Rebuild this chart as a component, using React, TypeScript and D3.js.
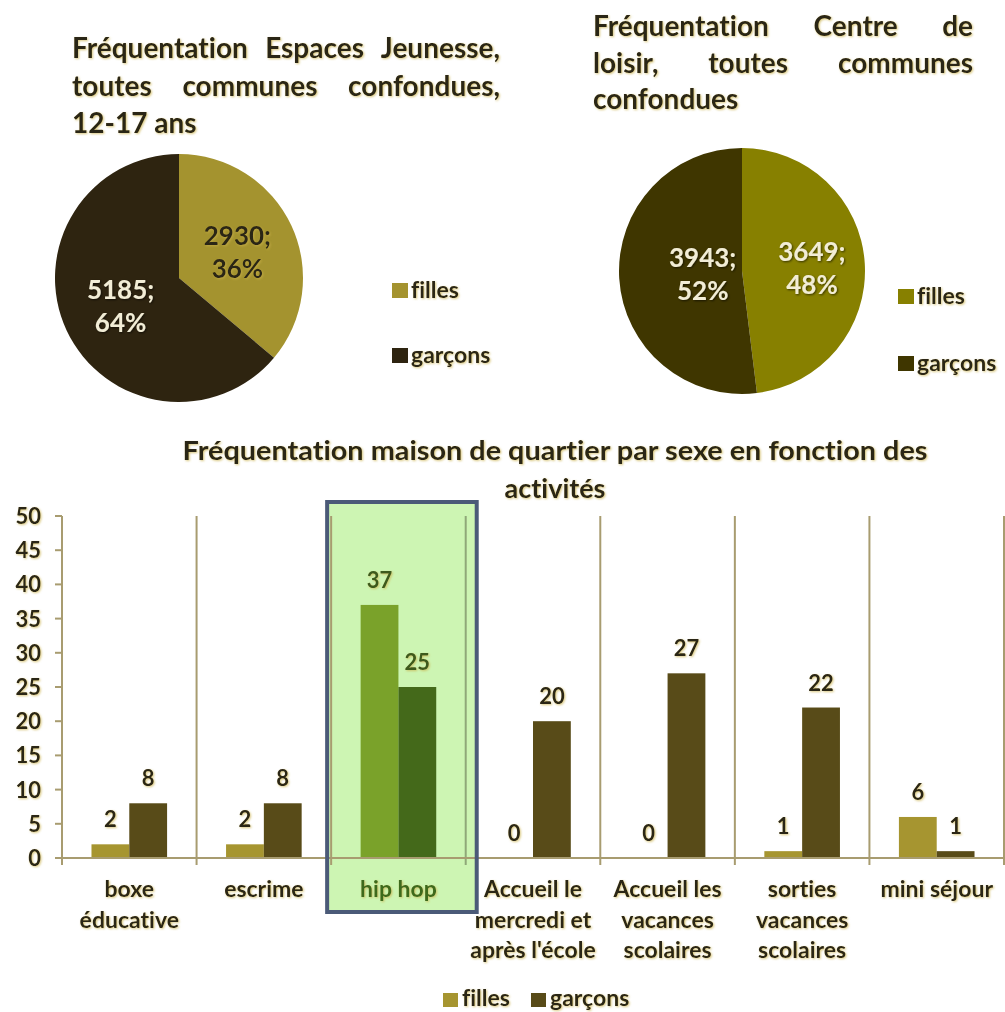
import React from 'react';
import * as d3 from 'd3';

// ---------- DATA ----------
const sexes = ['filles', 'garçons'];

const pie1TitleLines = ['Fréquentation Espaces Jeunesse,', 'toutes communes confondues,', '12-17 ans'];
const pie1Values = [2930, 5185];
const pie1Percents = [36, 64];

const pie2TitleLines = ['Fréquentation Centre de', 'loisir, toutes communes', 'confondues'];
const pie2Values = [3649, 3943];
const pie2Percents = [48, 52];

const barTitleLines = ['Fréquentation maison de quartier par sexe en fonction des', 'activités'];
const categories = ['boxe éducative', 'escrime', 'hip hop', "Accueil le mercredi et après l'école", 'Accueil les vacances scolaires', 'sorties vacances scolaires', 'mini séjour'];
const categoryLines = [['boxe', 'éducative'], ['escrime'], ['hip hop'], ['Accueil le', 'mercredi et', "après l'école"], ['Accueil les', 'vacances', 'scolaires'], ['sorties', 'vacances', 'scolaires'], ['mini séjour']];
const fillesValues = [2, 2, 37, 0, 0, 1, 6];
const garconsValues = [8, 8, 25, 20, 27, 22, 1];
const yTicks = [0, 5, 10, 15, 20, 25, 30, 35, 40, 45, 50];
const highlighted = 'hip hop';

// ---------- STYLE ----------
const FONT = 'Lato, "Open Sans", sans-serif';
const TXT = '#2c2612';
const pie1Colors = ['#a4932f', '#2e2410'];
const pie2Colors = ['#878000', '#3f3600'];
const barColors = ['#a69530', '#584b18'];
const hlColors = ['#7aa22a', '#44691a'];
const AXIS = '#a89c70';
const TITLE_SIZE = 28;

let ctx: CanvasRenderingContext2D | null = null;
function measure(text: string, font: string) {
  if (!ctx) ctx = document.createElement('canvas').getContext('2d');
  ctx!.font = font;
  return ctx!.measureText(text).width;
}

function JustifiedLine({ text, x0, x1, y, size, justify }: any) {
  if (!justify) {
    return (
      <text x={x0} y={y} fontSize={size} fontWeight="bold" fill={TXT} filter="url(#glow)">{text}</text>
    );
  }
  const words = text.split(' ');
  const font = `bold ${size}px Lato`;
  const widths = words.map((w: string) => measure(w, font));
  const total = d3.sum(widths);
  const gap = (x1 - x0 - total) / (words.length - 1);
  let x = x0;
  return (
    <g>
      {words.map((w: string, i: number) => {
        const el = (
          <text key={i} x={x} y={y} fontSize={size} fontWeight="bold" fill={TXT} filter="url(#glow)">{w}</text>
        );
        x += widths[i] + gap;
        return el;
      })}
    </g>
  );
}

function Pie({ values, percents, colors, cx, cy, r, labelFactors, labelColors, titleLines, titleX0, titleX1, titleY0, titleStep, legendX, legendY0, legendY1 }: any) {
  const pie = d3.pie<number>().sort(null).value((d) => d);
  const arcs = pie(values);
  const arc = d3.arc<d3.PieArcDatum<number>>().innerRadius(0).outerRadius(r);
  return (
    <g>
      {titleLines.map((t: string, i: number) => (
        <JustifiedLine key={i} text={t} x0={titleX0} x1={titleX1} y={titleY0 + i * titleStep} size={TITLE_SIZE} justify={i < titleLines.length - 1} />
      ))}
      <g transform={`translate(${cx},${cy})`}>
        {arcs.map((a, i) => (
          <path key={i} d={arc(a) || ''} fill={colors[i]} />
        ))}
        {arcs.map((a, i) => {
          const la = d3.arc<d3.PieArcDatum<number>>().innerRadius(r * labelFactors[i]).outerRadius(r * labelFactors[i]);
          const [lx, ly] = la.centroid(a);
          return (
            <text key={i} x={lx} y={ly} textAnchor="middle" fontSize={26} fontWeight="bold" fill={labelColors[i]} filter={labelColors[i] === TXT ? 'url(#glow)' : 'url(#darkglow)'}>
              <tspan x={lx} dy={-6}>{values[i]};</tspan>
              <tspan x={lx} dy={33}>{percents[i]}%</tspan>
            </text>
          );
        })}
      </g>
      {sexes.map((s, i) => {
        const ly = i === 0 ? legendY0 : legendY1;
        return (
          <g key={s}>
            <rect x={legendX} y={ly - 15} width={16} height={15} fill={colors[i]} />
            <text x={legendX + 19} y={ly} fontSize={23} fontWeight="bold" fill={TXT} filter="url(#glow)">{s}</text>
          </g>
        );
      })}
    </g>
  );
}

function BarChart() {
  const x = d3.scaleBand<string>().domain(categories).range([62, 1004]).padding(0);
  const inner = d3.scaleBand<string>().domain(sexes).range([0, x.bandwidth()]).paddingInner(0).paddingOuter(0.78);
  const y = d3.scaleLinear().domain([0, 50]).range([858, 516]);
  const series = [fillesValues, garconsValues];
  const hx = x(highlighted)!;
  return (
    <g>
      <text x={555} y={460} textAnchor="middle" fontSize={27} fontWeight="bold" fill={TXT} filter="url(#glow)" textLength={745} lengthAdjust="spacingAndGlyphs">{barTitleLines[0]}</text>
      <text x={555} y={498} textAnchor="middle" fontSize={27} fontWeight="bold" fill={TXT} filter="url(#glow)">{barTitleLines[1]}</text>
      {/* highlight background */}
      <rect x={hx - 4} y={502} width={x.bandwidth() + 15} height={410} fill="#cdf5b3" />
      {/* y axis */}
      <line x1={62} x2={62} y1={y(50)} y2={y(0)} stroke={AXIS} strokeWidth={2} />
      {yTicks.map((t) => (
        <g key={t}>
          <line x1={55} x2={62} y1={y(t)} y2={y(t)} stroke={AXIS} strokeWidth={2} />
          <text x={41} y={y(t) + 8} textAnchor="end" fontSize={22} fontWeight="bold" fill={TXT} filter="url(#glow)">{t}</text>
        </g>
      ))}
      {/* separators */}
      {categories.map((c) => (
        <line key={c} x1={x(c)! + x.bandwidth()} x2={x(c)! + x.bandwidth()} y1={y(50)} y2={y(0) + 7} stroke={c === highlighted ? '#8fa878' : AXIS} strokeWidth={2} />
      ))}
      <line x1={62} x2={62} y1={y(0)} y2={y(0) + 7} stroke={AXIS} strokeWidth={2} />
      {/* bars */}
      {categories.map((c) => (
        <g key={c}>
          {series.map((vals, si) => {
            const v = vals[categories.indexOf(c)];
            const bx = x(c)! + inner(sexes[si])!;
            const isH = c === highlighted;
            return (
              <g key={si}>
                <rect x={bx} y={y(v)} width={inner.bandwidth()} height={y(0) - y(v)} fill={isH ? hlColors[si] : barColors[si]} />
                <text x={bx + inner.bandwidth() / 2} y={y(v) - 17} textAnchor="middle" fontSize={22} fontWeight="bold" fill={isH ? '#3c5a1c' : TXT} filter="url(#glow)">{v}</text>
              </g>
            );
          })}
        </g>
      ))}
      {/* x axis */}
      <line x1={62} x2={1005} y1={y(0)} y2={y(0)} stroke={AXIS} strokeWidth={2} />
      {/* highlight border */}
      <rect x={hx - 4} y={502} width={x.bandwidth() + 15} height={410} fill="none" stroke="#4b5a78" strokeWidth={4} />
      {/* category labels */}
      {categories.map((c, ci) => (
        <text key={c} textAnchor="middle" fontSize={23} fontWeight="bold" fill={c === highlighted ? '#3c6a1c' : TXT} filter="url(#glow)">
          {categoryLines[ci].map((l, li) => (
            <tspan key={li} x={x(c)! + x.bandwidth() / 2} y={897 + li * 30.5}>{l}</tspan>
          ))}
        </text>
      ))}
      {/* legend */}
      {sexes.map((s, i) => {
        const lx = i === 0 ? 443 : 531;
        return (
          <g key={s}>
            <rect x={lx} y={993} width={15} height={14} fill={barColors[i]} />
            <text x={lx + 19} y={1006} fontSize={23} fontWeight="bold" fill={TXT} filter="url(#glow)">{s}</text>
          </g>
        );
      })}
    </g>
  );
}

export default function App() {
  return (
    <svg width={1005} height={1012} style={{ position: 'absolute', left: 0, top: 0, background: '#fff', fontVariantLigatures: 'none', fontFeatureSettings: '"liga" 0, "clig" 0' }} fontFamily={FONT}>
      <defs>
        <filter id="glow" x="-20%" y="-20%" width="140%" height="140%">
          <feDropShadow dx={1} dy={1} stdDeviation={1} floodColor="#c9b04a" floodOpacity={0.7} />
        </filter>
        <filter id="darkglow" x="-20%" y="-20%" width="140%" height="140%">
          <feDropShadow dx={1} dy={1} stdDeviation={1} floodColor="#000" floodOpacity={0.6} />
        </filter>
      </defs>
      <rect width={1005} height={1012} fill="#fff" />
      <Pie values={pie1Values} percents={pie1Percents} colors={pie1Colors} cx={179} cy={278} r={124}
        labelFactors={[0.52, 0.52]} labelColors={[TXT, '#f2edd6']} titleLines={pie1TitleLines}
        titleX0={72} titleX1={500} titleY0={58} titleStep={37.5} legendX={392} legendY0={298} legendY1={363} />
      <Pie values={pie2Values} percents={pie2Percents} colors={pie2Colors} cx={742} cy={271} r={123}
        labelFactors={[0.57, 0.32]} labelColors={['#f2edd6', '#f2edd6']} titleLines={pie2TitleLines}
        titleX0={593} titleX1={973} titleY0={36} titleStep={36.5} legendX={898} legendY0={304} legendY1={371} />
      <BarChart />
    </svg>
  );
}
